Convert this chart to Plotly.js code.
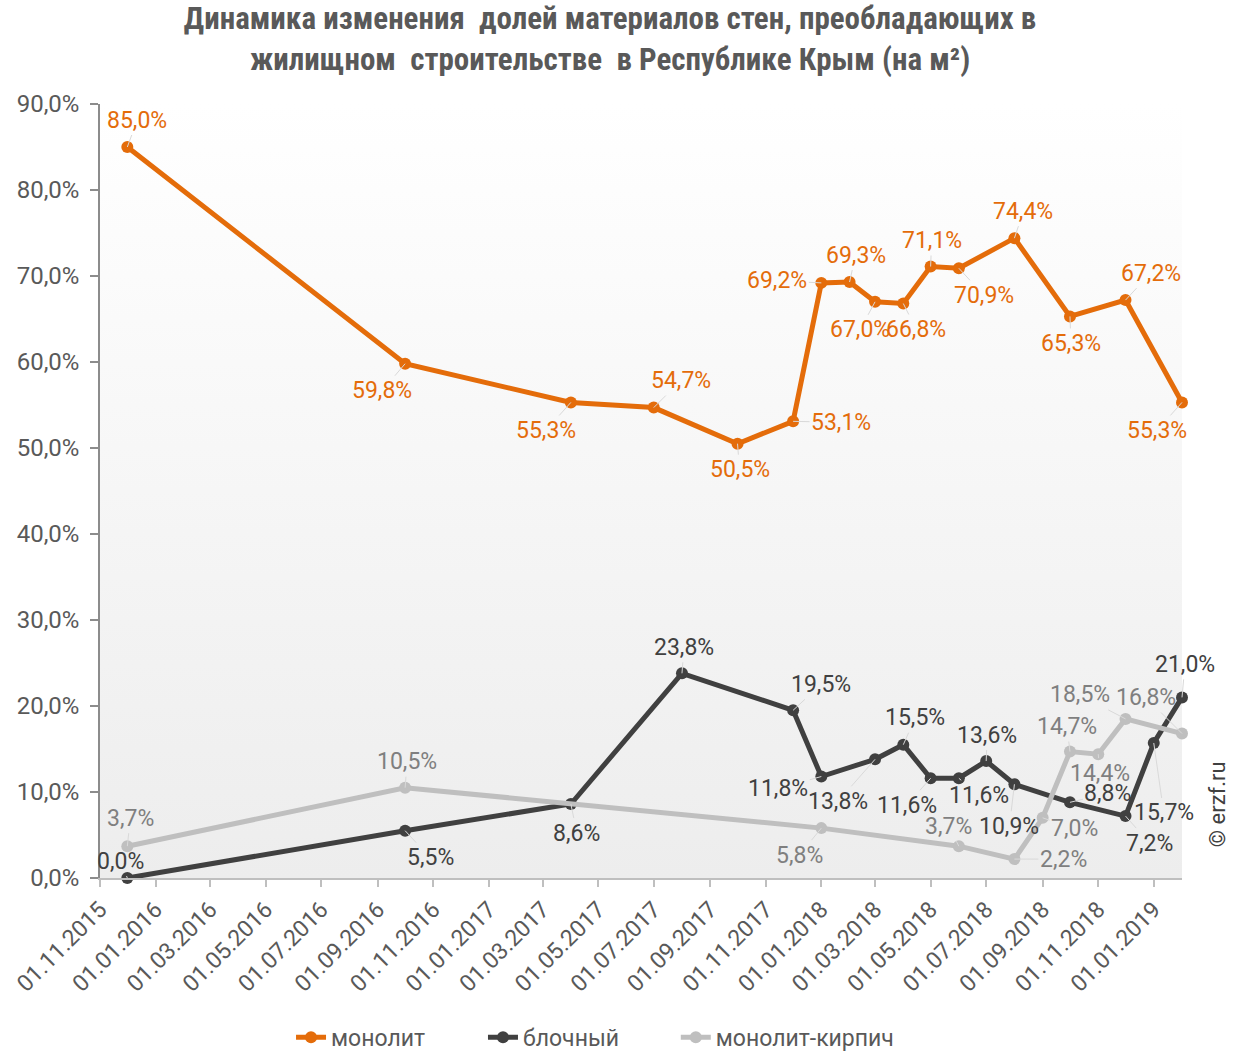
<!DOCTYPE html>
<html>
<head>
<meta charset="utf-8">
<script src="https://cdn.plot.ly/plotly-3.0.1.min.js"></script>
<style>html,body{margin:0;padding:0;background:#fff;}#chart{width:1240px;height:1051px;}</style>
</head>
<body>
<div id="chart"></div>
<script>
// ---- Data ----
const seriesNames = ['монолит', 'блочный', 'монолит-кирпич'];

const datesMonolit = ['2015-12-01','2016-10-01','2017-04-01','2017-07-01','2017-10-01','2017-12-01','2018-01-01','2018-02-01','2018-03-01','2018-04-01','2018-05-01','2018-06-01','2018-08-01','2018-10-01','2018-12-01','2019-02-01'];
const valuesMonolit = [85.0,59.8,55.3,54.7,50.5,53.1,69.2,69.3,67.0,66.8,71.1,70.9,74.4,65.3,67.2,55.3];

const datesBlock = ['2015-12-01','2016-10-01','2017-04-01','2017-08-01','2017-12-01','2018-01-01','2018-03-01','2018-04-01','2018-05-01','2018-06-01','2018-07-01','2018-08-01','2018-10-01','2018-12-01','2019-01-01','2019-02-01'];
const valuesBlock = [0.0,5.5,8.6,23.8,19.5,11.8,13.8,15.5,11.6,11.6,13.6,10.9,8.8,7.2,15.7,21.0];

const datesBrick = ['2015-12-01','2016-10-01','2018-01-01','2018-06-01','2018-08-01','2018-09-01','2018-10-01','2018-11-01','2018-12-01','2019-02-01'];
const valuesBrick = [3.7,10.5,5.8,3.7,2.2,7.0,14.7,14.4,18.5,16.8];

// ---- Styles ----
const colors = ['#E46C0A', '#404040', '#BFBFBF'];
const labelColors = ['#E46C0A', '#404040', '#7F7F7F'];
const legendIds = ['legend', 'legend2', 'legend3'];
const legendX = [0.2347, 0.3895, 0.545];

// label offsets (pixels) for data labels
const offMonolit = [[10,-27],[-23,27],[-25,28],[27,-27],[2,26],[48,1],[-44,-2],[6,-27],[-15,28],[13,26],[1,-26],[25,27],[9,-27],[1,27],[25,-27],[-25,28]];
const offBlock = [[-7,-17],[25,27],[6,29],[2,-26],[28,-26],[-43,12],[-37,42],[12,-27],[-24,27],[20,17],[1,-26],[-5,42],[38,-9],[24,27],[10,70],[3,-33]];
const offBrick = [[3,-28],[2,-26],[-22,27],[-10,-20],[49,0],[32,11],[-3,-25],[2,19],[-46,-24],[-36,-36]];

const fmt = v => v.toFixed(1).replace('.', ',') + '%';

const allDates = [datesMonolit, datesBlock, datesBrick];
const allValues = [valuesMonolit, valuesBlock, valuesBrick];
const allOffs = [offMonolit, offBlock, offBrick];

const traces = allDates.map((d, i) => ({
  type: 'scatter',
  mode: 'lines+markers',
  name: seriesNames[i],
  legend: legendIds[i],
  showlegend: true,
  x: d,
  y: allValues[i],
  line: {color: colors[i], width: 5},
  marker: {color: colors[i], size: 12},
  cliponaxis: false,
  hoverinfo: 'x+y'
}));

const annotations = [];
allDates.forEach((d, i) => {
  d.forEach((x, j) => {
    annotations.push({
      x: x, y: allValues[i][j], xref: 'x', yref: 'y',
      text: fmt(allValues[i][j]),
      showarrow: true, arrowhead: 0, arrowwidth: 1, arrowcolor: '#D9D9D9',
      ax: allOffs[i][j][0], ay: allOffs[i][j][1],
      font: {family: 'Roboto, sans-serif', size: 23, color: labelColors[i]}
    });
  });
});

annotations.push({
  xref: 'paper', yref: 'paper', x: 1.033, y: 0.095, xanchor: 'center', yanchor: 'middle',
  text: '© erzf.ru', textangle: -90, showarrow: false,
  font: {family: 'Roboto, sans-serif', size: 22, color: '#404040'}
});

const gradSvg = "<svg xmlns='http://www.w3.org/2000/svg' width='10' height='100' preserveAspectRatio='none'><defs><linearGradient id='g' x1='0' y1='0' x2='0' y2='1'><stop offset='0' stop-color='#ffffff'/><stop offset='1' stop-color='#ededed'/></linearGradient></defs><rect width='10' height='100' fill='url(#g)'/></svg>";

const layout = {
  width: 1240, height: 1051,
  margin: {l: 100, r: 58, t: 104, b: 173},
  paper_bgcolor: '#ffffff',
  plot_bgcolor: 'rgba(0,0,0,0)',
  separators: ', ',
  showlegend: true,
  font: {family: 'Roboto, sans-serif', color: '#595959'},
  title: {
    text: 'Динамика изменения  долей материалов стен, преобладающих в<br>жилищном  строительстве  в Республике Крым (на м²)',
    font: {family: "'Liberation Sans Narrow', 'Roboto Condensed', Roboto, sans-serif", size: 31, color: '#595959', weight: 'bold'},
    x: 0.492, xanchor: 'center', xref: 'container',
    y: 0.972, yanchor: 'top', yref: 'container'
  },
  xaxis: {
    type: 'date',
    range: ['2015-11-01', '2019-02-01'],
    tick0: '2015-11-01', dtick: 'M2',
    tickformat: '%d.%m.%Y',
    tickangle: -45,
    ticks: 'outside', ticklen: 7, tickcolor: '#BFBFBF', tickwidth: 2,
    showline: true, linecolor: '#BFBFBF', linewidth: 2,
    showgrid: false, zeroline: false,
    tickfont: {family: 'Roboto, sans-serif', size: 23, color: '#595959'}
  },
  yaxis: {
    range: [0, 90], dtick: 10,
    tickformat: '.1f', ticksuffix: '%',
    ticks: 'outside', ticklen: 8, tickcolor: '#8C8C8C', tickwidth: 1.5,
    showline: true, linecolor: '#8C8C8C', linewidth: 1.5,
    showgrid: false, zeroline: false,
    ticklabelstandoff: 6,
    tickfont: {family: 'Roboto, sans-serif', size: 24, color: '#595959'}
  },
  images: [{
    source: 'data:image/svg+xml;charset=utf-8,' + encodeURIComponent(gradSvg),
    xref: 'paper', yref: 'paper', x: 0, y: 1, sizex: 1, sizey: 1,
    xanchor: 'left', yanchor: 'top', sizing: 'stretch', layer: 'below'
  }],
  annotations: annotations,
  hovermode: 'closest'
};

legendIds.forEach((id, i) => {
  layout[id] = {
    orientation: 'h', visible: true,
    xref: 'container', yref: 'container',
    x: legendX[i], xanchor: 'left', y: 0.013, yanchor: 'middle',
    bgcolor: 'rgba(0,0,0,0)',
    font: {family: 'Roboto, sans-serif', size: 23, color: '#595959'}
  };
});

Plotly.newPlot('chart', traces, layout, {displayModeBar: false});
</script>
</body>
</html>
